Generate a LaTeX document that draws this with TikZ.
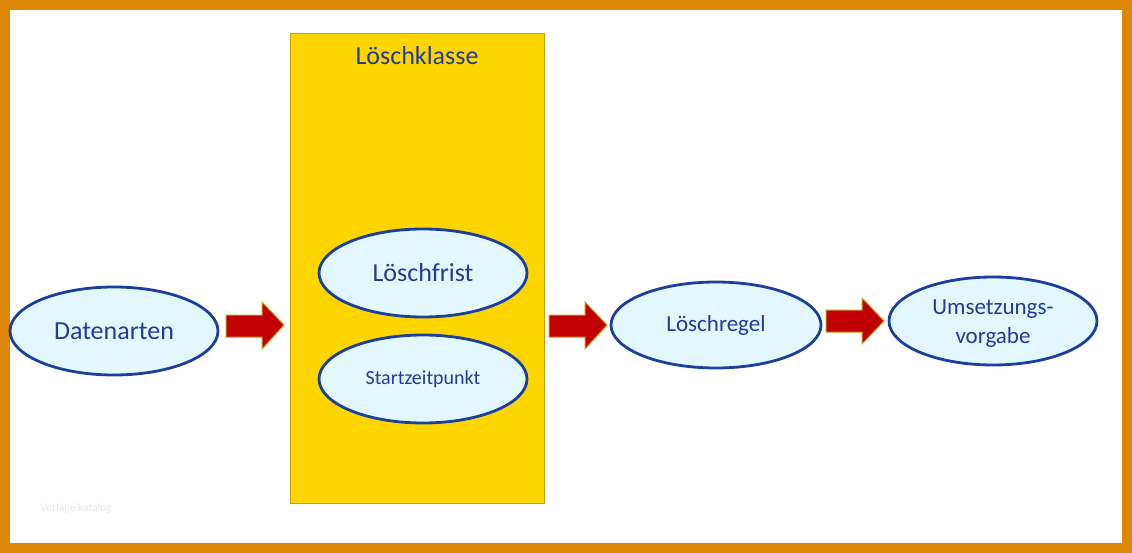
\documentclass[tikz,border=0pt]{standalone}
\usepackage{fontspec}
\setmainfont{Carlito}
\usetikzlibrary{shapes.geometric}
\definecolor{frameorange}{HTML}{DD8708}
\definecolor{boxyellow}{HTML}{FFD500}
\definecolor{boxedge}{HTML}{C8A000}
\definecolor{ellfill}{HTML}{E2F8FC}
\definecolor{elledge}{HTML}{1B3F9C}
\definecolor{txtblue}{HTML}{1F3C98}
\definecolor{arrred}{HTML}{C00000}
\definecolor{arredge}{HTML}{C89A10}
\tikzset{
  oval/.style={ellipse, draw=elledge, fill=ellfill, line width=2.8pt, inner sep=0pt, text=txtblue, align=center},
  blockarrow/.style={fill=arrred, draw=arredge, line width=1pt, line join=miter},
}
\begin{document}
\begin{tikzpicture}[x=1pt,y=-1pt]
\useasboundingbox (0,0) rectangle (1132,553);
\fill[frameorange] (0,0) rectangle (1132,553);
\fill[white] (10,10) rectangle (1122,543);
% watermark
\node[text=black!9, font=\fontsize{11.5}{12}\selectfont, anchor=west, inner sep=0pt] (wm) at (40,508) {Vorlage katalog};
% Löschklasse box
\node[draw=boxedge, fill=boxyellow, line width=0.8pt, minimum width=254pt, minimum height=470pt, inner sep=0pt, anchor=north west] (klasse) at (290,33) {};
\node[text=txtblue, font=\fontsize{26}{30}\selectfont] (klt) at (417,56) {Löschklasse};
% ovals
\node[oval, minimum width=208pt, minimum height=88pt, font=\fontsize{26}{30}\selectfont] (dat) at (114,331) {Datenarten};
\node[oval, minimum width=208pt, minimum height=88pt, font=\fontsize{26}{30}\selectfont] (frist) at (423,273) {Löschfrist};
\node[oval, minimum width=208pt, minimum height=88pt, font=\fontsize{20}{24}\selectfont] (start) at (423,379) {Startzeitpunkt};
\node[oval, minimum width=210pt, minimum height=86pt, font=\fontsize{23}{27}\selectfont] (regel) at (716,325) {Löschregel};
\node[oval, minimum width=208pt, minimum height=88pt, font=\fontsize{23}{29}\selectfont] (umsetz) at (993,321) {};
\node[text=txtblue, font=\fontsize{23}{29}\selectfont, align=center] (umt) at ([yshift=-3pt]umsetz.center) {Umsetzungs-\\vorgabe};
% block arrows
\draw[blockarrow] (226,315) -- (262,315) -- (262,302) -- (284,325) -- (262,349) -- (262,337) -- (226,337) -- cycle;
\draw[blockarrow] (549,315) -- (585,315) -- (585,302) -- (607,325) -- (585,349) -- (585,337) -- (549,337) -- cycle;
\draw[blockarrow] (826,310) -- (862,310) -- (862,298) -- (884,321) -- (862,344) -- (862,332) -- (826,332) -- cycle;
\end{tikzpicture}
\end{document}
